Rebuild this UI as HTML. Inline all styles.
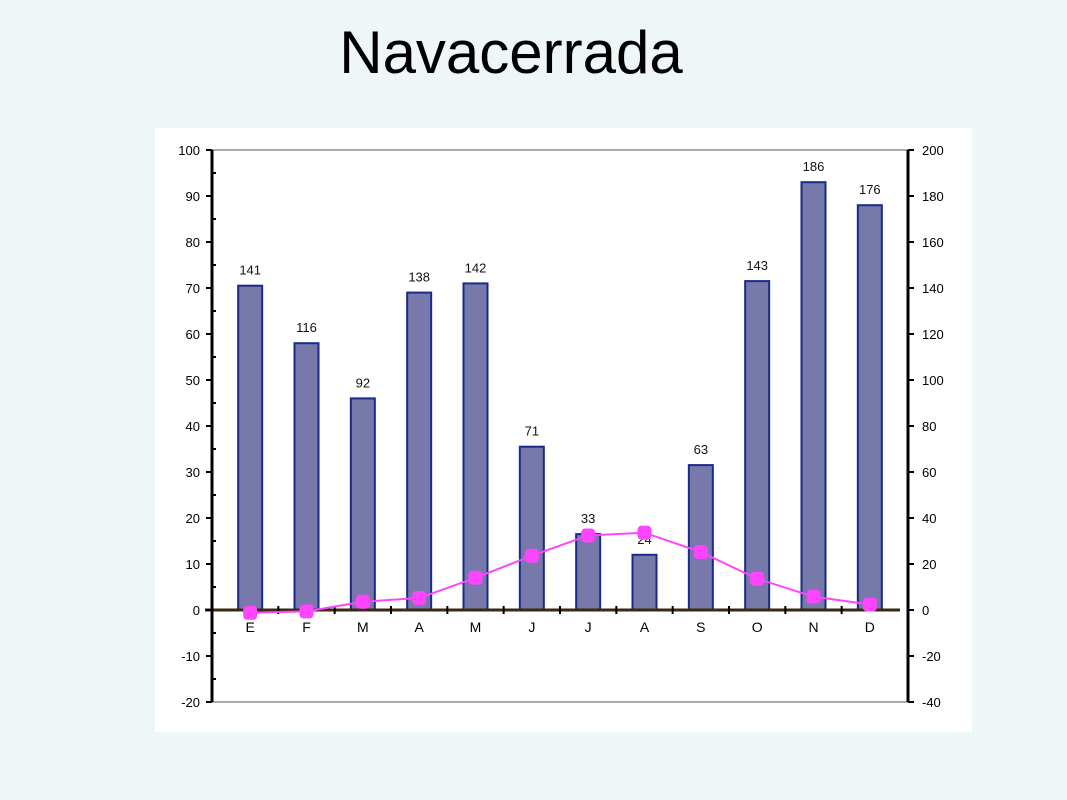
<!DOCTYPE html>
<html><head><meta charset="utf-8"><style>
body{margin:0;width:1067px;height:800px;background:#eef6f7;font-family:"Liberation Sans",sans-serif;overflow:hidden}
#title{position:absolute;left:0;width:1022px;top:18px;text-align:center;font-size:60px;color:#000}
svg{position:absolute;left:0;top:0}
</style></head><body>
<div id="title">Navacerrada</div>
<svg id="chart" width="1067" height="800"></svg>
<script>
const months=["E","F","M","A","M","J","J","A","S","O","N","D"];
const precip=[141,116,92,138,142,71,33,24,63,143,186,176];
const temp=[-0.6,-0.3,1.8,2.6,7,11.8,16.2,16.8,12.6,6.8,2.9,1.2];
const leftTicks=[100,90,80,70,60,50,40,30,20,10,0,-10,-20];
const rightTicks=[200,180,160,140,120,100,80,60,40,20,0,-20,-40];
const NS="http://www.w3.org/2000/svg";
const svg=document.getElementById('chart');
function el(t,a,p){const e=document.createElementNS(NS,t);for(const k in a)e.setAttribute(k,a[k]);(p||svg).appendChild(e);return e;}
const X0=212,X1=908,yTop=150,yBot=702;
const yL=v=>yBot-(v+20)/120*(yBot-yTop);
const yR=v=>yBot-(v+40)/240*(yBot-yTop);
const step=(X1-X0-20)/12;
const xC=i=>X0+10+step*(i+0.5);
let bg=el('rect',{x:155,y:128,width:817,height:604,fill:'#fff'});


let g1=el('line',{x1:X0,x2:X1,y1:yTop,y2:yTop,stroke:'#aaa','stroke-width':2});


let g2=el('line',{x1:X0,x2:X1,y1:yBot,y2:yBot,stroke:'#aaa','stroke-width':2});


precip.forEach((v,i)=>{
  const y=yR(v),h=yR(0)-y;
  const b=el('rect',{x:xC(i)-12,y:y,width:24,height:h,fill:'#7779aa',stroke:'#1a2a8a','stroke-width':2});
  
  
  const t=el('text',{x:xC(i),y:y-11,'text-anchor':'middle','font-size':13,fill:'#111'});
  t.textContent=v;
  
  
});
let z=el('line',{x1:205,x2:900,y1:yL(0),y2:yL(0),stroke:'#3a2a10','stroke-width':3});


for(let i=1;i<12;i++){const tk=el('line',{x1:X0+10+step*i,x2:X0+10+step*i,y1:yL(0)-4,y2:yL(0)+4,stroke:'#000','stroke-width':2});

}
months.forEach((m,i)=>{const t=el('text',{x:xC(i),y:yL(0)+22,'text-anchor':'middle','font-size':14});t.textContent=m;

});
const pts=temp.map((v,i)=>xC(i)+','+yL(v)).join(' ');
let ln=el('polyline',{points:pts,fill:'none',stroke:'#ff44ff','stroke-width':2});


temp.forEach((v,i)=>{const r=el('rect',{x:xC(i)-7,y:yL(v)-7,width:14,height:14,rx:4,fill:'#ff44ff'});

});
let la=el('line',{x1:X0,x2:X0,y1:yTop,y2:yBot,stroke:'#000','stroke-width':3});


let ra=el('line',{x1:X1,x2:X1,y1:yTop,y2:yBot,stroke:'#000','stroke-width':3});


leftTicks.forEach(v=>{const y=yL(v);
  const tk=el('line',{x1:X0-6,x2:X0,y1:y,y2:y,stroke:'#000','stroke-width':2});
  
  
  if(v>-20){const m=el('line',{x1:X0,x2:X0+4,y1:yL(v-5),y2:yL(v-5),stroke:'#000','stroke-width':2});
  
  }
  const t=el('text',{x:X0-12,y:y+5,'text-anchor':'end','font-size':13});t.textContent=v;
  
  });
rightTicks.forEach(v=>{const y=yR(v);
  const tk=el('line',{x1:X1,x2:X1+6,y1:y,y2:y,stroke:'#000','stroke-width':2});
  
  
  const t=el('text',{x:X1+14,y:y+5,'text-anchor':'start','font-size':13});t.textContent=v;
  
  });
</script>
</body></html>
